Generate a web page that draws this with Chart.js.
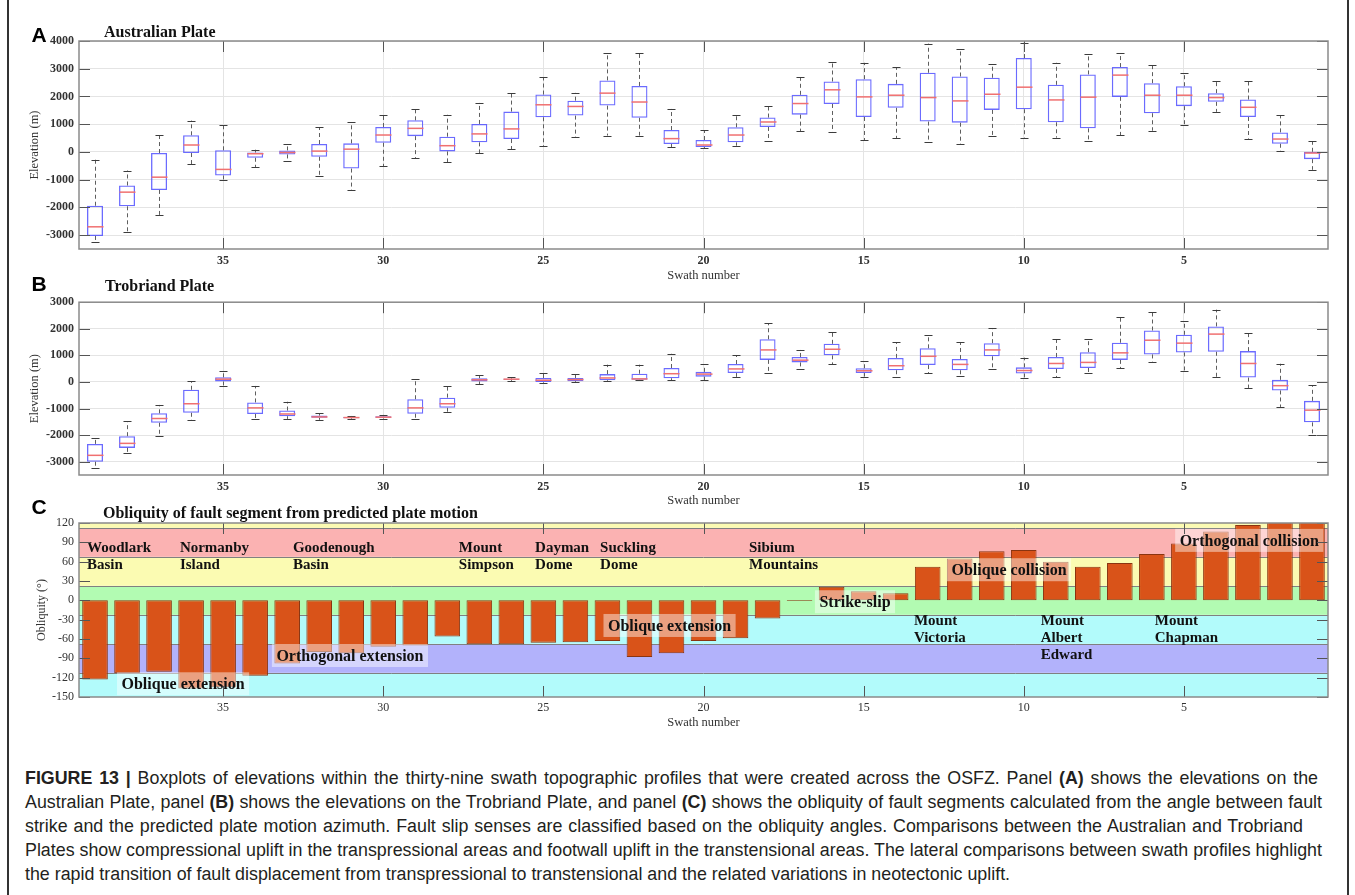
<!DOCTYPE html>
<html>
<head>
<meta charset="utf-8">
<title>Figure 13 - swath elevations and fault obliquity</title>
<script src="https://cdn.jsdelivr.net/npm/chart.js@4.4.1/dist/chart.umd.min.js"></script>
<style>
  body { margin: 0; background: #fff; }
  #page { position: relative; width: 1355px; height: 895px; overflow: hidden; background: #fff; }
  #page canvas { position: absolute; left: 0; }
  .frame { position: absolute; top: 0; width: 1.5px; height: 895px; background: #333; }
  .letter { position: absolute; font: bold 21px "Liberation Sans", Arial, sans-serif; color: #000; transform: translate(-50%, -50%); }
  .ptitle { position: absolute; font: bold 16px "Liberation Serif", serif; color: #111; transform: translateY(-50%); white-space: nowrap; }
  #caption { position: absolute; left: 25px; top: 766px; font: 18px/24px "Liberation Sans", Arial, sans-serif; color: #231f20; }
  #caption div { white-space: nowrap; width: max-content; }
</style>
</head>
<body>
<div id="page">
  <canvas id="cA" width="1355" height="290" style="top:0px"></canvas>
  <canvas id="cB" width="1355" height="220" style="top:290px"></canvas>
  <canvas id="cC" width="1355" height="230" style="top:510px"></canvas>

  <div class="frame" style="left:7px"></div>
  <div class="frame" style="left:1347px"></div>

  <div class="letter" style="left:39px;top:35px">A</div>
  <div class="letter" style="left:39px;top:284px">B</div>
  <div class="letter" style="left:39px;top:507px">C</div>

  <div class="ptitle" style="left:104px;top:32px">Australian Plate</div>
  <div class="ptitle" style="left:105px;top:286px">Trobriand Plate</div>
  <div class="ptitle" style="left:103px;top:513px">Obliquity of fault segment from predicted plate motion</div>

  <div id="caption">
    <div><b>FIGURE 13 |</b> Boxplots of elevations within the thirty-nine swath topographic profiles that were created across the OSFZ. Panel <b>(A)</b> shows the elevations on the</div>
    <div>Australian Plate, panel <b>(B)</b> shows the elevations on the Trobriand Plate, and panel <b>(C)</b> shows the obliquity of fault segments calculated from the angle between fault</div>
    <div>strike and the predicted plate motion azimuth. Fault slip senses are classified based on the obliquity angles. Comparisons between the Australian and Trobriand</div>
    <div>Plates show compressional uplift in the transpressional areas and footwall uplift in the transtensional areas. The lateral comparisons between swath profiles highlight</div>
    <div>the rapid transition of fault displacement from transpressional to transtensional and the related variations in neotectonic uplift.</div>
  </div>
</div>

<script>
// swath numbers, plotted right-to-left (39 ... 1)
const swaths = [39,38,37,36,35,34,33,32,31,30,29,28,27,26,25,24,23,22,21,20,19,18,17,16,15,14,13,12,11,10,9,8,7,6,5,4,3,2,1];

// A - Australian Plate elevations (m)
const aMin = [-3260,-2890,-2270,-440,-1020,-550,-310,-870,-1370,-520,-220,-370,-50,100,200,540,590,590,160,140,225,405,755,705,430,500,355,285,585,515,515,395,610,765,970,1445,480,20,-645];
const aQ1  = [-3030,-1960,-1370,-40,-850,-210,-90,-175,-600,330,570,20,345,465,1250,1310,1670,1230,285,175,345,900,1345,1730,1260,1590,1095,1055,1515,1540,1070,850,1985,1395,1650,1805,1260,295,-260];
const aMed = [-2700,-1450,-910,250,-630,-65,-20,30,100,610,850,225,650,830,1700,1640,2120,1800,480,250,610,1080,1745,2240,1985,2045,1960,1840,2080,2335,1875,1975,2770,2045,2045,1960,1610,465,-40];
const aQ3  = [-1940,-1210,-40,600,60,-20,55,285,310,900,1140,550,1010,1455,2070,1850,2580,2380,790,430,890,1240,2060,2540,2625,2455,2855,2720,2675,3385,2420,2795,3060,2480,2370,2120,1890,705,5];
const aMax = [-280,-670,600,1130,980,80,270,890,1070,1320,1560,1340,1770,2120,2700,2130,3570,3580,1550,790,1335,1660,2685,3240,3215,3045,3905,3725,3155,3915,3215,3530,3565,3145,2840,2540,2565,1320,380];
const aTicks = [-3000,-2000,-1000,0,1000,2000,3000,4000];

// B - Trobriand Plate elevations (m)
const bMin = [-3240,-2685,-2030,-1435,-150,-1390,-1390,-1425,-1390,-1375,-1390,-1120,-90,40,-30,-20,20,55,65,55,190,345,490,660,200,190,335,225,480,150,175,320,525,760,430,190,-225,-940,-1995];
const bQ1  = [-3000,-2480,-1535,-1160,20,-1205,-1290,-1350,-1365,-1350,-1195,-975,20,80,-5,30,65,80,140,200,335,830,735,1000,335,440,635,440,965,320,490,525,830,1035,1110,1135,165,-320,-1520];
const bMed = [-2760,-2310,-1375,-820,105,-975,-1205,-1315,-1340,-1325,-975,-820,80,105,65,90,150,115,310,295,490,1205,820,1230,420,610,965,660,1205,430,695,735,1095,1570,1460,1800,695,-140,-1060];
const bQ3  = [-2330,-2040,-1180,-295,175,-770,-1075,-1265,-1315,-1290,-650,-590,140,125,150,150,295,310,525,380,675,1605,940,1435,515,905,1265,865,1460,550,940,1120,1475,1935,1775,2090,1160,80,-710];
const bMax = [-2115,-1475,-865,30,395,-150,-745,-1180,-1280,-1240,105,-140,250,175,335,295,650,650,1060,660,1010,2200,1205,1875,770,1485,1775,1485,2030,915,1605,1605,2430,2625,2275,2720,1850,685,-115];
const bTicks = [-3000,-2000,-1000,0,1000,2000,3000];

// C - obliquity of each fault segment (deg)
const obliquity = [-123,-113,-111,-137,-135,-117,-98,-80,-82,-72,-70,-56,-68,-68,-66,-65,-63,-88,-82,-63,-59,-28,-1,21,14,11,52,65,76,78,60,52,58,72,88,107,117,122,124];
const cTicks = [-150,-120,-90,-60,-30,0,30,60,90,120];

// slip-sense classes (band edges in deg)
const bandEdges  = [-150,-112.5,-67.5,-22.5,22.5,67.5,112.5,120];
const bandColors = ['#b2fbfb','#b2b2fb','#b2fbfb','#b2fbb2','#fbfbb2','#fbb2b2','#fbfbb2'];
const classNames = ['Oblique extension','Orthogonal extension','Oblique extension','Strike-slip','Oblique collision','Orthogonal collision'];
const classAt    = [[36.25,-129.5],[31.04,-85.6],[21.06,-39],[15.27,-2.2],[10.46,47.5],[2.96,93]];   // [swath, deg]
const placeNames = [['Woodlark','Basin'],['Normanby','Island'],['Goodenough','Basin'],['Mount','Simpson'],['Dayman','Dome'],['Suckling','Dome'],['Sibium','Mountains'],['Mount','Victoria'],['Mount','Albert','Edward'],['Mount','Chapman']];
const placeAt    = [[39.25,81.5],[36.35,81.5],[32.82,81.5],[27.64,81.5],[25.26,81.5],[23.23,81.5],[18.58,81.5],[13.43,-31.7],[9.47,-31.7],[5.91,-31.7]];

const SERIF = '"Liberation Serif", "Times New Roman", serif';
const idx = s => 39 - s;   // swath -> category index

// frame box + inward tick marks (MATLAB style)
const framePlugin = {
  id: 'frame',
  afterDraw(chart) {
    const {ctx, chartArea: a, scales: {x, y}} = chart;
    const len = 11;
    ctx.save();
    ctx.strokeStyle = '#555';
    ctx.lineWidth = 1;
    ctx.beginPath();
    swaths.forEach((s, i) => {
      if (s % 5) return;
      const px = Math.round(x.getPixelForValue(i)) + 0.5;
      ctx.moveTo(px, a.top); ctx.lineTo(px, a.top + len);
      ctx.moveTo(px, a.bottom); ctx.lineTo(px, a.bottom - len);
    });
    y.ticks.forEach(t => {
      const py = Math.round(y.getPixelForValue(t.value)) + 0.5;
      ctx.moveTo(a.left, py); ctx.lineTo(a.left + len, py);
      ctx.moveTo(a.right, py); ctx.lineTo(a.right - len, py);
    });
    ctx.stroke();
    ctx.strokeStyle = '#8a8a8a';
    ctx.lineWidth = 1.5;
    ctx.strokeRect(a.left, a.top, a.width, a.height);
    ctx.restore();
  }
};

// whiskers, caps and medians for the box datasets
function whiskers(mn, med, mx, q1, q3) {
  return {
    id: 'whiskers',
    afterDatasetsDraw(chart) {
      const {ctx, scales: {x, y}} = chart;
      const step = x.getPixelForValue(1) - x.getPixelForValue(0);
      const boxHalf = step * 0.25, capHalf = step * 0.125;
      ctx.save();
      swaths.forEach((s, i) => {
        const px = Math.round(x.getPixelForValue(i)) + 0.5;
        const yMin = y.getPixelForValue(mn[i]), yMax = y.getPixelForValue(mx[i]);
        const y1 = y.getPixelForValue(q1[i]), y3 = y.getPixelForValue(q3[i]);
        const ym = y.getPixelForValue(med[i]);
        ctx.lineWidth = 1;
        ctx.strokeStyle = '#5e5e5e';
        ctx.setLineDash([4, 3]);
        ctx.beginPath();
        ctx.moveTo(px, y3); ctx.lineTo(px, yMax);
        ctx.moveTo(px, y1); ctx.lineTo(px, yMin);
        ctx.stroke();
        ctx.setLineDash([]);
        ctx.strokeStyle = '#3c3c3c';
        ctx.beginPath();
        ctx.moveTo(px - capHalf, Math.round(yMax) + 0.5); ctx.lineTo(px + capHalf, Math.round(yMax) + 0.5);
        ctx.moveTo(px - capHalf, Math.round(yMin) + 0.5); ctx.lineTo(px + capHalf, Math.round(yMin) + 0.5);
        ctx.stroke();
        ctx.strokeStyle = '#f07070';
        ctx.lineWidth = 1.5;
        ctx.beginPath();
        ctx.moveTo(px - boxHalf, ym); ctx.lineTo(px + boxHalf, ym);
        ctx.stroke();
      });
      ctx.restore();
    }
  };
}

// coloured slip-sense bands behind the obliquity bars
const bandsPlugin = {
  id: 'bands',
  beforeDatasetsDraw(chart) {
    const {ctx, chartArea: a, scales: {y}} = chart;
    ctx.save();
    for (let i = 0; i < bandColors.length; i++) {
      const y0 = y.getPixelForValue(bandEdges[i]);
      const y1 = y.getPixelForValue(bandEdges[i + 1]);
      ctx.fillStyle = bandColors[i];
      ctx.fillRect(a.left, y1, a.width, y0 - y1);
    }
    ctx.strokeStyle = '#808080';
    ctx.lineWidth = 1;
    ctx.beginPath();
    for (let i = 1; i < bandEdges.length - 1; i++) {
      const py = Math.round(y.getPixelForValue(bandEdges[i])) + 0.5;
      ctx.moveTo(a.left, py); ctx.lineTo(a.right, py);
    }
    ctx.stroke();
    ctx.restore();
  }
};

// place names and class labels on panel C
const notesPlugin = {
  id: 'notes',
  afterDatasetsDraw(chart) {
    const {ctx, scales: {x, y}} = chart;
    ctx.save();
    ctx.textBaseline = 'middle';
    ctx.fillStyle = '#111';
    ctx.font = 'bold 15px ' + SERIF;
    ctx.textAlign = 'left';
    placeNames.forEach((lines, k) => {
      const px = x.getPixelForValue(idx(placeAt[k][0]));
      const py = y.getPixelForValue(placeAt[k][1]);
      lines.forEach((t, j) => ctx.fillText(t, px, py + j * 17));
    });
    ctx.font = 'bold 16px ' + SERIF;
    ctx.textAlign = 'center';
    classNames.forEach((t, k) => {
      const px = x.getPixelForValue(idx(classAt[k][0]));
      const py = y.getPixelForValue(classAt[k][1]);
      const w = ctx.measureText(t).width + 9, h = 23;
      ctx.fillStyle = 'rgba(255,255,255,0.45)';
      ctx.fillRect(px - w / 2, py - h / 2, w, h);
      ctx.fillStyle = '#111';
      ctx.fillText(t, px, py + 1);
    });
    ctx.restore();
  }
};

function xAxis(height, tickPad, titlePad, bold, grid) {
  return {
    type: 'category',
    offset: true,
    afterFit: s => { s.height = height; },
    border: { display: false },
    grid: {
      display: grid, drawTicks: false, offset: false,
      color: c => (swaths[c.index] % 5 === 0 ? '#e4e4e4' : 'rgba(0,0,0,0)')
    },
    ticks: {
      autoSkip: false, maxRotation: 0, padding: tickPad, color: '#333',
      font: { family: SERIF, size: 12, weight: bold ? 'bold' : 'normal' },
      callback: (v, i) => (swaths[i] % 5 === 0 ? String(swaths[i]) : '')
    },
    title: {
      display: true, text: 'Swath number', color: '#333',
      font: { family: SERIF, size: 12.5 }, padding: { top: 0, bottom: titlePad }
    }
  };
}

function yAxis(min, max, tickVals, text, titlePad, size, bold, grid) {
  return {
    min, max,
    afterFit: s => { s.width = 79; },
    afterBuildTicks: s => { s.ticks = tickVals.map(v => ({ value: v })); },
    border: { display: false },
    grid: { display: grid, drawTicks: false, color: '#e4e4e4' },
    ticks: {
      padding: 5, color: '#333', autoSkip: false,
      font: { family: SERIF, size: 12, weight: bold ? 'bold' : 'normal' },
      callback: v => String(v)
    },
    title: {
      display: true, text, color: '#333',
      font: { family: SERIF, size }, padding: { top: titlePad, bottom: 0 }
    }
  };
}

function boxChart(id, padTop, xHeight, tickPad, titlePad, yMin, yMax, tickVals, mn, q1, med, q3, mx) {
  return new Chart(document.getElementById(id), {
    type: 'bar',
    data: {
      labels: swaths.map(String),
      datasets: [{
        data: q1.map((v, i) => [v, q3[i]]),
        backgroundColor: 'rgba(0,0,0,0)',
        borderColor: 'rgba(70,70,255,0.8)',
        borderWidth: 1.3,
        borderSkipped: false,
        barPercentage: 0.5,
        categoryPercentage: 1
      }]
    },
    options: {
      responsive: false, animation: false, events: [],
      layout: { padding: { top: padTop, right: 27, bottom: 0, left: 0 } },
      plugins: { legend: { display: false }, tooltip: { enabled: false } },
      scales: {
        x: xAxis(xHeight, tickPad, titlePad, true, true),
        y: yAxis(yMin, yMax, tickVals, 'Elevation (m)', 27.5, 12.5, true, true)
      }
    },
    plugins: [whiskers(mn, med, mx, q1, q3), framePlugin]
  });
}

boxChart('cA', 41, 41, 5, 6.5, -3500, 4000, aTicks, aMin, aQ1, aMed, aQ3, aMax);
boxChart('cB', 6, 35, 5, 1.5, -3500, 3000, bTicks, bMin, bQ1, bMed, bQ3, bMax);

new Chart(document.getElementById('cC'), {
  type: 'bar',
  data: {
    labels: swaths.map(String),
    datasets: [{
      data: obliquity,
      backgroundColor: '#d95319',
      borderColor: '#8a3410',
      borderWidth: 1,
      borderSkipped: false,
      barPercentage: 0.8,
      categoryPercentage: 1
    }]
  },
  options: {
    responsive: false, animation: false, events: [],
    layout: { padding: { top: 13, right: 27, bottom: 0, left: 0 } },
    plugins: { legend: { display: false }, tooltip: { enabled: false } },
    scales: {
      x: xAxis(43, 3.5, 9.5, false, false),
      y: yAxis(-150, 120, cTicks, 'Obliquity (°)', 34.8, 12, false, false)
    }
  },
  plugins: [bandsPlugin, notesPlugin, framePlugin]
});

// caption: fit the widest line, then spread words so each line ends where it does in the figure
const capBox = document.getElementById('caption');
const capLines = Array.from(capBox.querySelectorAll('div'));
const capTargets = [1293, 1297, 1278, 1297];
let k = Infinity;
capTargets.forEach((t, i) => { k = Math.min(k, t / capLines[i].getBoundingClientRect().width); });
if (isFinite(k)) capBox.style.fontSize = (18 * k).toFixed(2) + 'px';
capTargets.forEach((t, i) => {
  const el = capLines[i];
  const gaps = (el.textContent.match(/ /g) || []).length;
  const w = el.getBoundingClientRect().width;
  if (gaps) el.style.wordSpacing = ((t - w) / gaps).toFixed(3) + 'px';
});
</script>
</body>
</html>
